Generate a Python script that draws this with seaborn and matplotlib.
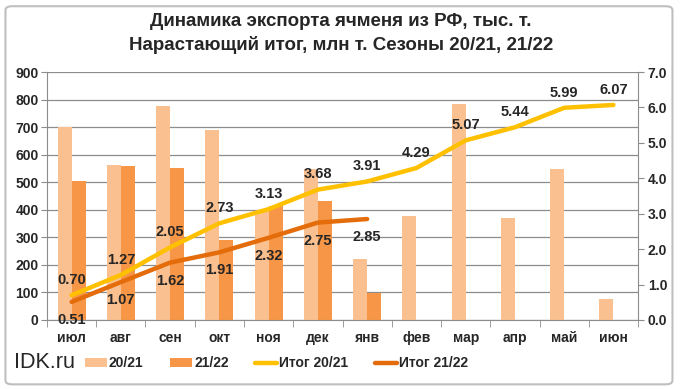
import matplotlib
matplotlib.use("Agg")
import matplotlib.pyplot as plt
from matplotlib.patches import FancyBboxPatch, Patch
from matplotlib.lines import Line2D
import seaborn as sns
import pandas as pd
import numpy as np

months = ["июл", "авг", "сен", "окт", "ноя", "дек", "янв", "фев", "мар", "апр", "май", "июн"]
exp_2021 = [700, 563, 777, 690, 395, 548, 222, 378, 784, 371, 548, 75]
exp_2122 = [505, 560, 552, 290, 412, 433, 97, np.nan, np.nan, np.nan, np.nan, np.nan]
cum_2021 = [0.70, 1.27, 2.05, 2.73, 3.13, 3.68, 3.91, 4.29, 5.07, 5.44, 5.99, 6.07]
cum_2122 = [0.51, 1.07, 1.62, 1.91, 2.32, 2.75, 2.85]
season_labels = ["20/21", "21/22"]
total_labels = ["Итог 20/21", "Итог 21/22"]

sns.set_style("white")
plt.rcParams['font.family'] = ['Liberation Sans', 'DejaVu Sans']

c_light = "#FAC090"
c_dark = "#F79646"
c_gold = "#FFC000"
c_orange = "#E46C0A"
grid_c = "#8C8C8C"

fig = plt.figure(figsize=(6.82, 3.89), dpi=100)
fig.patches.append(FancyBboxPatch((0.008, 0.012), 0.978, 0.972, boxstyle="round,pad=0,rounding_size=0.01",
                                  transform=fig.transFigure, fill=False, edgecolor="#BFBFBF", linewidth=1.5))

ax = fig.add_axes([0.0689, 0.1774, 0.8666, 0.6375])

df = pd.DataFrame({
    "month": months * 2,
    "value": exp_2021 + exp_2122,
    "season": [season_labels[0]] * 12 + [season_labels[1]] * 12,
})
sns.barplot(data=df, x="month", y="value", hue="season", order=months, hue_order=season_labels,
            palette=[c_light, c_dark], width=0.57, ax=ax, legend=False, saturation=1, errorbar=None,
            linewidth=0, edgecolor="none")

ax.set_xlim(-0.5, 11.5)
ax.set_ylim(0, 900)
ax.set_yticks(range(0, 901, 100))
ax.set_xlabel("")
ax.set_ylabel("")
ax.grid(axis="y", color=grid_c, linewidth=0.9)
ax.set_axisbelow(True)
for s in ["top", "right"]:
    ax.spines[s].set_visible(False)
ax.spines["left"].set_color(grid_c)
ax.spines["bottom"].set_color(grid_c)
ax.tick_params(axis="y", labelsize=10, length=4, color=grid_c, pad=2, direction="out", left=True)
ax.tick_params(axis="x", which="major", length=0, labelsize=10, pad=8)
ax.set_xticks(np.arange(-0.5, 12, 1), minor=True)
ax.tick_params(axis="x", which="minor", length=5, color=grid_c, direction="out", bottom=True)
for t in ax.get_yticklabels() + ax.get_xticklabels():
    t.set_fontweight("bold")

ax2 = ax.twinx()
x1 = list(range(len(cum_2021)))
x2 = list(range(len(cum_2122)))
sns.lineplot(x=x1, y=cum_2021, ax=ax2, color=c_gold, linewidth=3.2, solid_capstyle="round")
sns.lineplot(x=x2, y=cum_2122, ax=ax2, color=c_orange, linewidth=3.2, solid_capstyle="round")
ax2.set_ylim(0, 7)
ax2.set_xlim(-0.5, 11.5)
ax2.set_yticks(np.arange(0, 7.01, 1))
ax2.set_yticklabels([f"{v:.1f}" for v in np.arange(0, 7.01, 1)])
for s in ["top", "left", "bottom"]:
    ax2.spines[s].set_visible(False)
ax2.spines["right"].set_color(grid_c)
ax2.tick_params(axis="y", labelsize=10, length=4, color=grid_c, direction="out", right=True, pad=3)
for t in ax2.get_yticklabels():
    t.set_fontweight("bold")
ax2.grid(False)

for xi, v in zip(x1, cum_2021):
    ax2.annotate(f"{v:.2f}", (xi, v), xytext=(0, 11), textcoords="offset points",
                 ha="center", va="center", fontsize=10.5, fontweight="bold")
for xi, v in zip(x2, cum_2122):
    ax2.annotate(f"{v:.2f}", (xi, v), xytext=(0, -13), textcoords="offset points",
                 ha="center", va="center", fontsize=10.5, fontweight="bold")

fig.text(0.5, 0.945, "Динамика экспорта ячменя из РФ, тыс. т.", ha="center", va="center",
         fontsize=13.5, fontweight="bold")
fig.text(0.5, 0.885, "Нарастающий итог, млн т. Сезоны 20/21, 21/22", ha="center", va="center",
         fontsize=13.5, fontweight="bold")

fig.text(0.02, 0.068, "IDK.ru", ha="left", va="center", fontsize=15.5)

handles = [Patch(facecolor=c_light, edgecolor="none"), Patch(facecolor=c_dark, edgecolor="none"),
           Line2D([], [], color=c_gold, linewidth=3.2), Line2D([], [], color=c_orange, linewidth=3.2)]
fig.legend(handles, season_labels + total_labels, loc="center left", bbox_to_anchor=(0.124, 0.066), ncol=4,
           frameon=False, handlelength=1.6, handleheight=0.6, handletextpad=0.15, columnspacing=1.9,
           borderpad=0, borderaxespad=0, prop={"weight": "bold", "size": 10})

fig.savefig("out.png", dpi=100)
